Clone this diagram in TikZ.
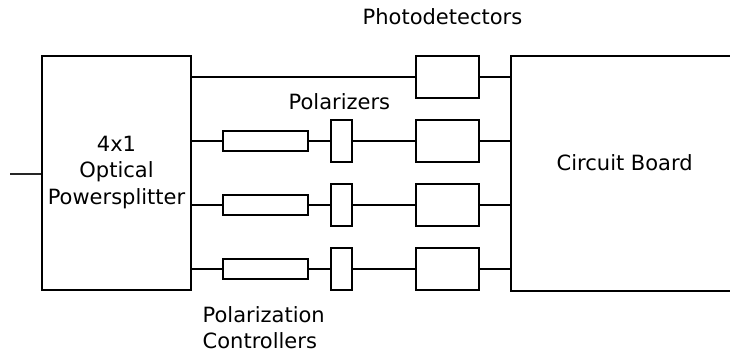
\documentclass[tikz,border=0pt]{standalone}
\usepackage{fontspec}
\setmainfont{DejaVu Sans}
\begin{document}
\begin{tikzpicture}[x=1pt,y=-1pt,
  every node/.style={font=\fontsize{21}{25}\selectfont},
  box/.style={draw, line width=2pt, inner sep=0pt, rectangle},
  wire/.style={line width=2pt},
  thinwire/.style={line width=1.2pt, black!85},
  lbl/.style={inner sep=0pt, anchor=base west}]
\useasboundingbox (0,0) rectangle (730,352);
% splitter
\node[box, minimum width=149pt, minimum height=234pt] (sp) at (116.5,173.5) {};
\node[inner sep=0pt, anchor=base] (t1) at (116.5,151.5) {4x1};
\node[inner sep=0pt, anchor=base] (t2) at (116.5,178) {Optical};
\node[inner sep=0pt, anchor=base] (t3) at (116.5,205) {Powersplitter};
\coordinate (in) at (10,174);
\draw[thinwire] (in) -- (in -| sp.west);
% circuit board (open to the right)
\node[inner sep=0pt, minimum width=230pt, minimum height=234pt] (cb) at (626,173.5) {};
\draw[wire] (cb.north east) -- (cb.north west) -- (cb.south west) -- (cb.south east);
\node[lbl] (cbt) at (556.5,170.5) {Circuit Board};
% photodetectors
\foreach \i/\y in {1/77.5,2/141.5,3/205.5,4/269.5}{
  \node[box, minimum width=63pt, minimum height=42pt] (pd\i) at (447.5,\y) {};
  \draw[wire] (pd\i.east) -- (pd\i.east -| cb.west);
}
\draw[wire] (pd1.west -| sp.east) -- (pd1.west);
% controllers and polarizers
\foreach \i/\y in {2/141.5,3/205.5,4/269.5}{
  \node[box, minimum width=85pt, minimum height=20pt] (pc\i) at (265.5,\y) {};
  \node[box, minimum width=21pt, minimum height=42pt] (po\i) at (341,\y) {};
  \draw[wire] (pc\i.west -| sp.east) -- (pc\i.west);
  \draw[wire] (pc\i.east) -- (po\i.west);
  \draw[wire] (po\i.east) -- (pd\i.west);
}
% labels
\node[lbl] (lpd) at (362.5,25) {Photodetectors};
\node[lbl] (lpo) at (288.5,110) {Polarizers};
\node[lbl] (lpc1) at (202.5,323) {Polarization};
\node[lbl] (lpc2) at (202.5,348) {Controllers};
\end{tikzpicture}
\end{document}
